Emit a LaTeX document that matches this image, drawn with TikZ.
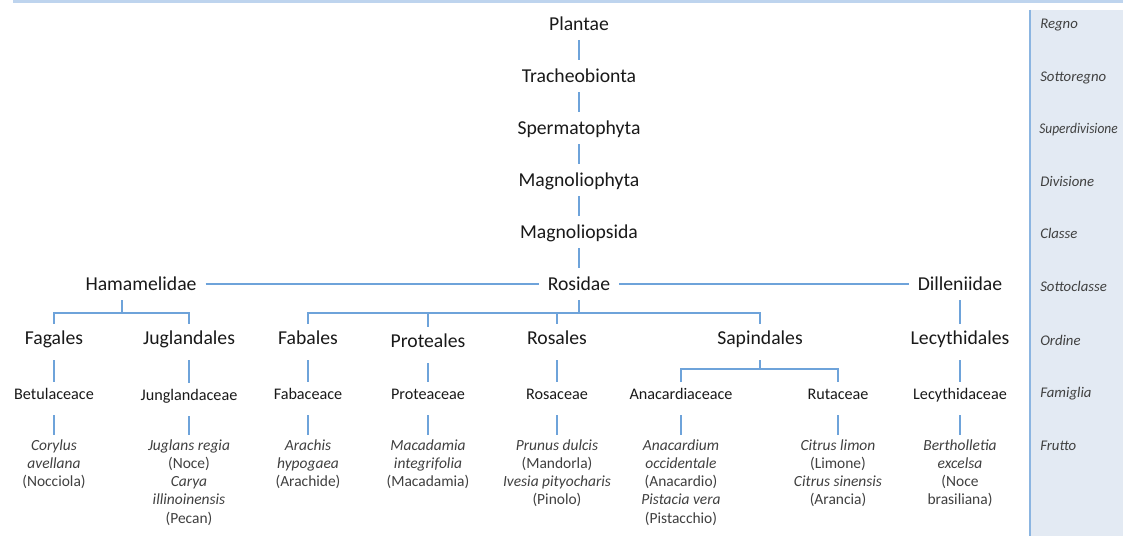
\documentclass[tikz,border=0pt]{standalone}
\usepackage{fontspec}
\setmainfont{Carlito}
\usetikzlibrary{calc}

\definecolor{ramocol}{RGB}{110,163,218}
\definecolor{fondocol}{RGB}{227,234,243}
\definecolor{cimacol}{RGB}{190,212,238}
\definecolor{testocol}{RGB}{25,25,25}
\definecolor{grigiocol}{RGB}{64,64,64}

\begin{document}
\begin{tikzpicture}[x=0.025cm,y=-0.025cm,
    taxon/.style={anchor=base, font=\fontsize{14}{16}\selectfont, text=testocol, inner xsep=0.22cm, inner ysep=0pt, text height=0.575cm, text depth=0.225cm},
    ordine/.style={anchor=base, font=\fontsize{14}{16}\selectfont, text=testocol, inner xsep=0.2cm, inner ysep=0pt, text height=0.525cm, text depth=0.375cm},
    famiglia/.style={anchor=base, font=\fontsize{11.5}{14}\selectfont, text=testocol, inner xsep=0.2cm, inner ysep=0pt, text height=0.45cm, text depth=0.375cm},
    frutto/.style={anchor=north, align=center, font=\fontsize{11}{13}\selectfont, text=grigiocol, inner ysep=0.1cm},
    rango/.style={anchor=base west, inner sep=0pt, font=\fontsize{10.5}{12}\selectfont\itshape, text=grigiocol},
    ramo/.style={draw=ramocol, line width=1.3pt}]
\useasboundingbox (0,0) rectangle (1123,536);
\fill[white] (0,0) rectangle (1123,536);
\fill[fondocol] (1030,10) rectangle (1123,536);
\draw[ramocol!80, line width=1pt] (1030,10) -- (1030,536);
\draw[cimacol, line width=2pt] (13,1.5) -- (1123,1.5);

% ranghi
\node [taxon] (P) at (579,31) {Plantae};
\node [taxon] (T) at (579,83) {Tracheobionta};
\node [taxon] (S) at (579,135) {Spermatophyta};
\node [taxon] (M) at (579,187) {Magnoliophyta};
\node [taxon] (C) at (579,239) {Magnoliopsida};
\node [taxon] (R) at (579,291) {Rosidae};
\node [taxon] (H) at (141,291) {Hamamelidae};
\node [taxon] (D) at (960,291) {Dilleniidae};

\node [ordine] (fag) at (54,345) {Fagales};
\node [ordine] (jug) at (189,345) {Juglandales};
\node [ordine] (fab) at (308,345) {Fabales};
\node [ordine] (pro) at (428,348) {Proteales};
\node [ordine] (ros) at (557,345) {Rosales};
\node [ordine] (sap) at (760,345) {Sapindales};
\node [ordine] (lec) at (960,345) {Lecythidales};

\node [famiglia] (bet) at (54,400) {Betulaceace};
\node [famiglia] (jun) at (189,401) {Junglandaceae};
\node [famiglia] (fbc) at (308,400) {Fabaceace};
\node [famiglia] (prc) at (428,400) {Proteaceae};
\node [famiglia] (rsc) at (557,400) {Rosaceae};
\node [famiglia] (ana) at (681,400) {Anacardiaceace};
\node [famiglia] (rut) at (838,400) {Rutaceae};
\node [famiglia] (lcd) at (960,400) {Lecythidaceae};

\node [frutto] (cor) at (54,435) {\textit{Corylus}\\\textit{avellana}\\(Nocciola)};
\node [frutto] (jre) at (189,435) {\textit{Juglans regia}\\(Noce)\\\textit{Carya}\\\textit{illinoinensis}\\(Pecan)};
\node [frutto] (ara) at (308,435) {\textit{Arachis}\\\textit{hypogaea}\\(Arachide)};
\node [frutto] (mac) at (428,435) {\textit{Macadamia}\\\textit{integrifolia}\\(Macadamia)};
\node [frutto] (pru) at (557,435) {\textit{Prunus dulcis}\\(Mandorla)\\\textit{Ivesia pityocharis}\\(Pinolo)};
\node [frutto] (anc) at (681,435) {\textit{Anacardium}\\\textit{occidentale}\\(Anacardio)\\\textit{Pistacia vera}\\(Pistacchio)};
\node [frutto] (cit) at (838,435) {\textit{Citrus limon}\\(Limone)\\\textit{Citrus sinensis}\\(Arancia)};
\node [frutto] (ber) at (960,435) {\textit{Bertholletia}\\\textit{excelsa}\\(Noce\\brasiliana)};

% colonna dei ranghi
\node [rango] (r1) at (1040,29) {Regno};
\node [rango] (r2) at (1040,82) {Sottoregno};
\node [rango] (r3) at (1039,134) {\scalebox{0.91}[1]{Superdivisione}};
\node [rango] (r4) at (1040,187) {Divisione};
\node [rango] (r5) at (1040,239) {Classe};
\node [rango] (r6) at (1040,292) {Sottoclasse};
\node [rango] (r7) at (1040,346) {Ordine};
\node [rango] (r8) at (1040,398) {Famiglia};
\node [rango] (r9) at (1040,450) {Frutto};

\draw [ramo] (P) -- (T); \draw [ramo] (T) -- (S);
\draw [ramo] (S) -- (M); \draw [ramo] (M) -- (C);
\draw [ramo] (C) -- (R);
\draw [ramo] (H) -- (R); \draw [ramo] (R) -- (D);

\coordinate (hbus) at (122,313);
\draw [ramo] (H.south -| hbus) -- (hbus);
\draw [ramo] (fag.north) |- (hbus) -| (jug.north);
\draw [ramo] (R.south) -- ++(0,13) coordinate (rbus);
\draw [ramo] (fab.north) |- (rbus) -| (sap.north);
\draw [ramo] (pro.north) -- (pro.north |- rbus);
\draw [ramo] (ros.north) -- (ros.north |- rbus);
\draw [ramo] (D) -- (lec);

\draw [ramo] (fag) -- (bet); \draw [ramo] (jug) -- (jun);
\draw [ramo] (fab) -- (fbc); \draw [ramo] (pro) -- (prc);
\draw [ramo] (ros) -- (rsc); \draw [ramo] (lec) -- (lcd);
\draw [ramo] (sap.south) -- ++(0,9) coordinate (sbus);
\draw [ramo] (ana.north) |- (sbus) -| (rut.north);

\draw [ramo] (bet) -- (cor); \draw [ramo] (jun) -- (jre);
\draw [ramo] (fbc) -- (ara); \draw [ramo] (prc) -- (mac);
\draw [ramo] (rsc) -- (pru); \draw [ramo] (ana) -- (anc);
\draw [ramo] (rut) -- (cit); \draw [ramo] (lcd) -- (ber);
\end{tikzpicture}
\end{document}
